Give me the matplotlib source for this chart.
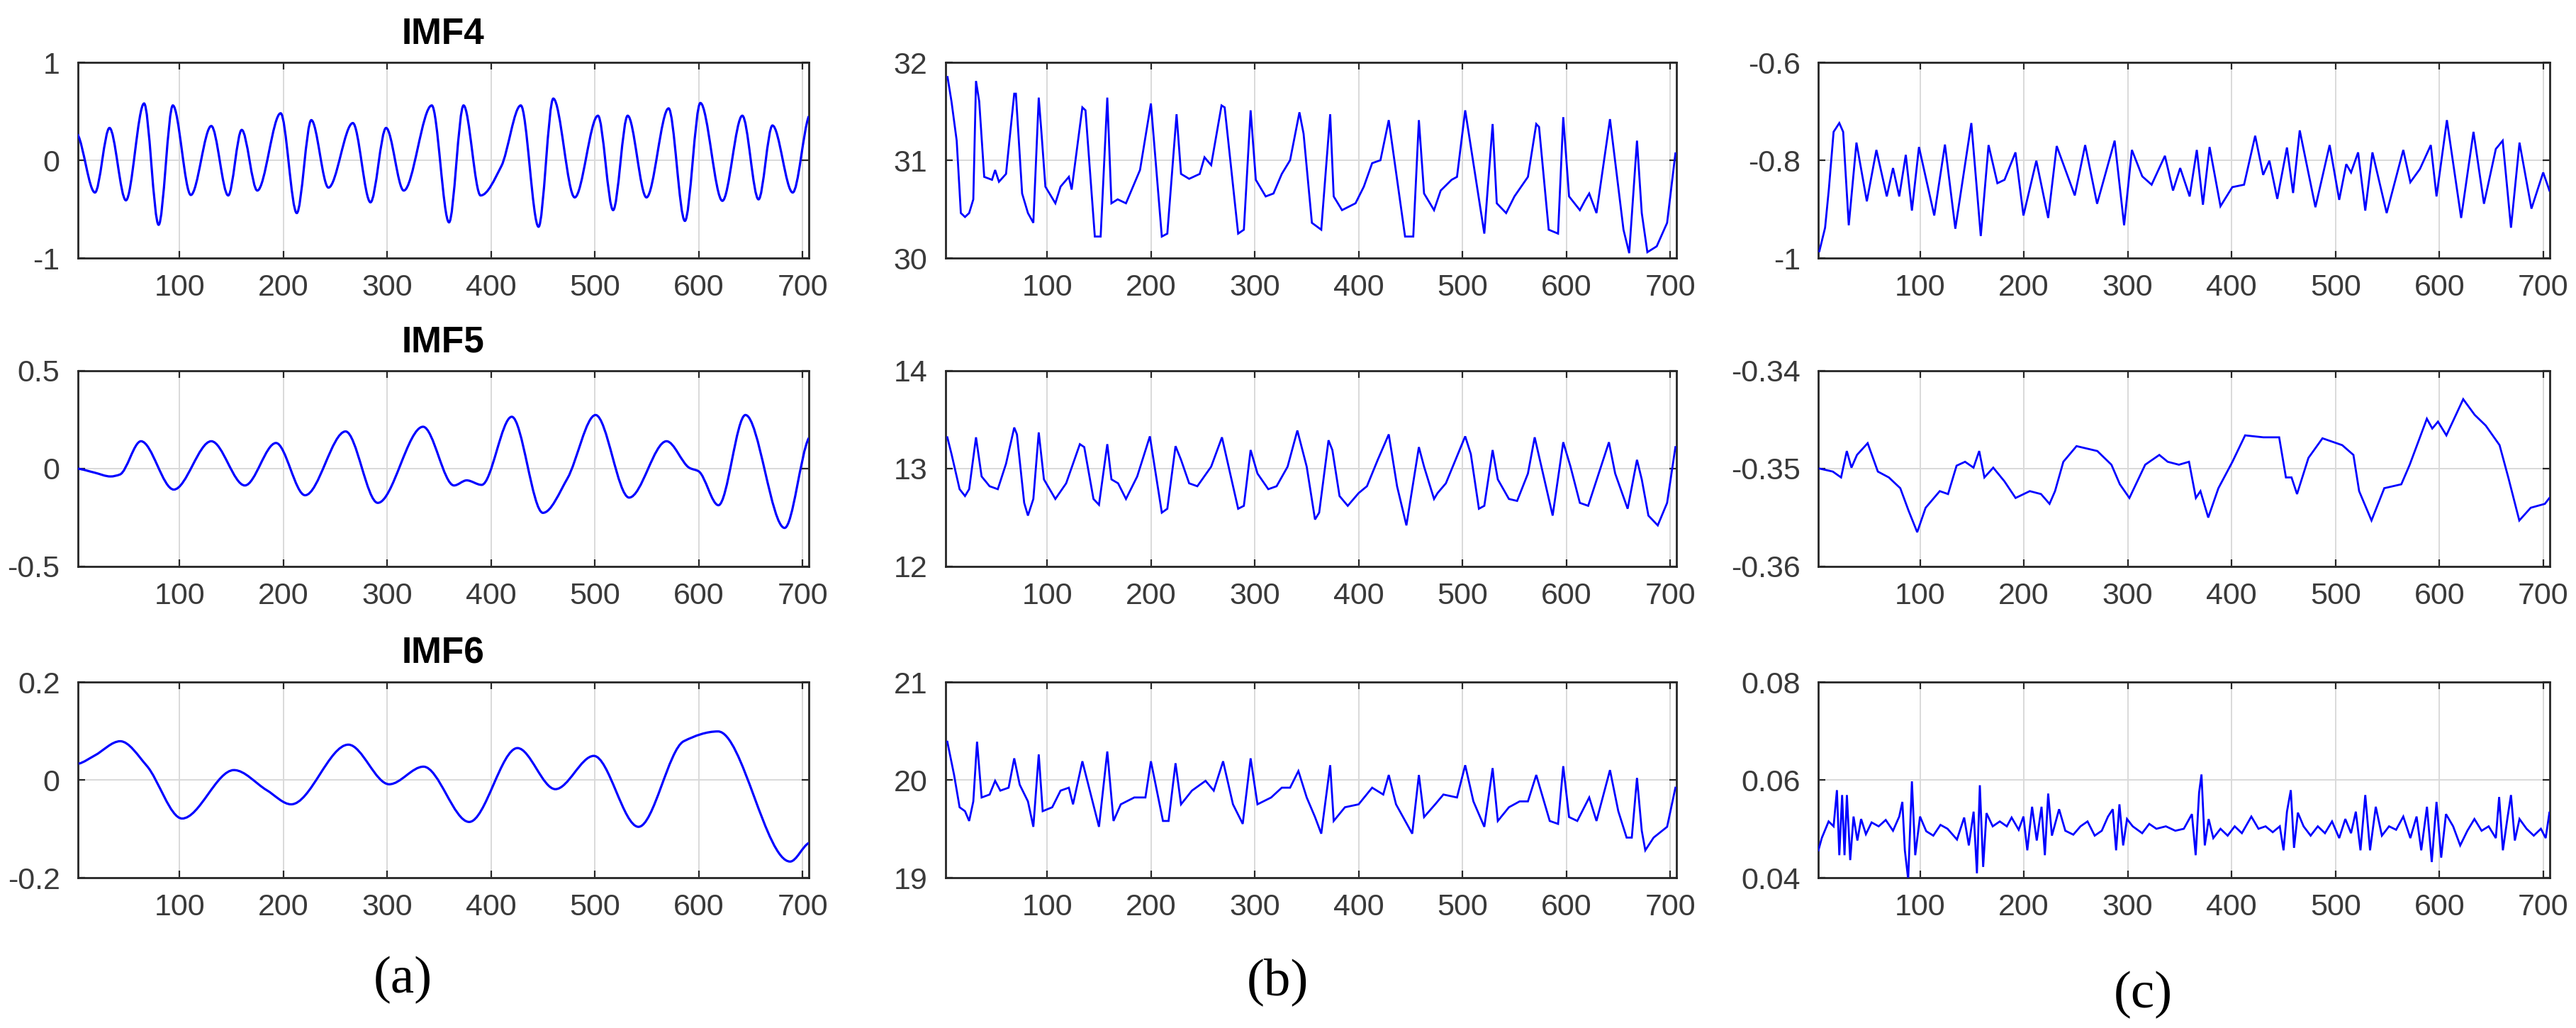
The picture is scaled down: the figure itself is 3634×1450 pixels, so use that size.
import numpy as np
import matplotlib
matplotlib.use("Agg")
import matplotlib.pyplot as plt
from matplotlib.path import Path
from matplotlib.patches import PathPatch

plt.rcParams['font.family'] = ['Liberation Sans', 'DejaVu Sans']
plt.rcParams['axes.unicode_minus'] = False

# ---------------- data ----------------
# column (a): IMF4, IMF5, IMF6  (extrema / turning points)
a1_x = [2, 18.7, 32.7, 48.5, 66, 80, 93.7, 111, 130.7, 147, 160, 175, 197.5, 213, 227, 243.5, 267, 284, 299, 316,
        343, 359.6, 373.6, 390, 410, 428.7, 445.8, 460, 480.6, 503, 517.6, 531.6, 549.7, 571, 586.7, 601.6, 622.8,
        642, 657.6, 671, 690.5, 706]
a1_y = [0.265, -0.33, 0.33, -0.41, 0.58, -0.66, 0.56, -0.355, 0.35, -0.36, 0.31, -0.31, 0.48, -0.54, 0.41, -0.28,
        0.38, -0.43, 0.33, -0.31, 0.56, -0.635, 0.56, -0.36, -0.06, 0.56, -0.68, 0.63, -0.38, 0.455, -0.51, 0.455,
        -0.38, 0.53, -0.62, 0.585, -0.415, 0.455, -0.40, 0.355, -0.33, 0.45]

a2_x = [2, 18, 33.7, 42.7, 63, 94.6, 130.7, 163, 193, 221, 260, 291, 334.6, 364.4, 376.6, 391, 420, 450, 473.6,
        500.7, 533, 569, 591, 600, 619, 645, 682.7, 706]
a2_y = [0.0, -0.02, -0.04, -0.03, 0.14, -0.107, 0.14, -0.086, 0.131, -0.136, 0.19, -0.175, 0.214, -0.086, -0.06,
        -0.083, 0.265, -0.226, -0.05, 0.274, -0.148, 0.14, 0.004, -0.014, -0.187, 0.274, -0.303, 0.157]

a3_x = [3, 18.6, 43, 68.5, 102.6, 152.5, 184, 207.6, 262.7, 302, 335, 379, 425.5, 462, 499, 542, 585.6, 618.6,
        688, 706]
a3_y = [0.033, 0.05, 0.079, 0.029, -0.079, 0.02, -0.021, -0.05, 0.072, -0.009, 0.027, -0.086, 0.065, -0.019,
        0.049, -0.096, 0.079, 0.099, -0.167, -0.129]

# column (b)
b1_x = [4.2, 8, 13, 17, 21, 25, 29, 31.6, 34.7, 39.5, 47, 50, 53.7, 60.5, 68.4, 70, 76, 81.6, 86.8, 92,
        94.7, 98.4, 108, 113, 121, 123.7, 134, 137, 146, 151.6, 158, 162, 168, 176, 189.5, 200, 210.5, 215.8,
        224.7, 229, 236.8, 247, 251.6, 258, 268, 271, 284, 289.5, 296, 301, 310.5, 318, 326, 334, 343, 347,
        355, 364, 372.6, 376, 384, 397, 405, 413, 421, 429, 444.7, 452.6, 458, 463, 472.6, 479, 489.5, 494.7,
        502.6, 521, 529, 533, 542, 550, 563, 571, 573.7, 583, 592, 597, 602.6, 613, 618, 622, 629, 642, 655,
        660.5, 668, 672.6, 678, 687, 697, 705]
b1_y = [31.85, 31.6, 31.2, 30.46, 30.42, 30.46, 30.6, 31.81, 31.6, 30.83, 30.8, 30.9, 30.78, 30.86, 31.68,
        31.68, 30.66, 30.46, 30.36, 31.64, 31.27, 30.73, 30.56, 30.73, 30.83, 30.7, 31.54, 31.51, 30.22, 30.22,
        31.64, 30.56, 30.6, 30.56, 30.9, 31.58, 30.22, 30.25, 31.47, 30.86, 30.81, 30.86, 31.03, 30.95, 31.56,
        31.54, 30.25, 30.29, 31.51, 30.8, 30.63, 30.66, 30.86, 31.0, 31.49, 31.27, 30.36, 30.29, 31.47, 30.63,
        30.49, 30.56, 30.73, 30.97, 31.0, 31.41, 30.22, 30.22, 31.41, 30.66, 30.49, 30.69, 30.8, 30.83, 31.51,
        30.25, 31.37, 30.56, 30.46, 30.63, 30.83, 31.37, 31.34, 30.29, 30.25, 31.44, 30.63, 30.49, 30.59, 30.66,
        30.46, 31.42, 30.29, 30.05, 31.2, 30.46, 30.06, 30.12, 30.36, 31.07]

b2_x = [4, 8, 15.8, 21, 25, 31.6, 37, 44.7, 52.6, 60.5, 68.4, 71, 78, 81.6, 86.8, 92, 97, 108, 118.4, 131.6,
        135.8, 144.7, 150, 158, 162, 168.4, 176, 186.8, 199, 210.5, 215.8, 223.7, 229, 236.8, 244.7, 258, 268.4,
        284, 289.5, 296, 302.6, 313, 321, 331.6, 341, 350, 358, 362, 371, 374.7, 381.6, 389.5, 400, 408, 418.4,
        429, 437, 446, 458, 463, 472.6, 476, 484, 502.6, 508, 515.8, 521, 529, 534, 544.7, 552.6, 563, 569.5,
        586.8, 597, 604, 613, 621, 641, 647, 659, 668, 672.6, 679, 688, 697, 705]
b2_y = [13.32, 13.15, 12.79, 12.72, 12.79, 13.32, 12.92, 12.82, 12.79, 13.05, 13.42, 13.35, 12.65, 12.52,
        12.69, 13.37, 12.89, 12.69, 12.85, 13.25, 13.22, 12.69, 12.63, 13.25, 12.89, 12.85, 12.69, 12.92, 13.33,
        12.55, 12.59, 13.23, 13.09, 12.85, 12.82, 13.02, 13.32, 12.59, 12.62, 13.19, 12.95, 12.79, 12.82, 13.02,
        13.39, 13.02, 12.48, 12.55, 13.29, 13.19, 12.72, 12.62, 12.75, 12.82, 13.09, 13.35, 12.82, 12.42, 13.22,
        13.02, 12.69, 12.75, 12.85, 13.33, 13.15, 12.59, 12.62, 13.19, 12.89, 12.69, 12.67, 12.95, 13.32, 12.52,
        13.27, 13.02, 12.65, 12.62, 13.27, 12.95, 12.59, 13.09, 12.89, 12.52, 12.42, 12.65, 13.22]

b3_x = [4, 10.5, 15.8, 21, 25, 29, 32.6, 37, 44.7, 50, 55, 63, 68.4, 73.7, 81.6, 86.8, 92, 95.8, 105, 113,
        121, 125, 134, 150, 158, 164, 171, 184, 194.7, 200, 211.6, 217, 223.7, 229, 239.5, 252.6, 260.5, 269.5,
        279, 288.4, 296, 302.6, 315.8, 326, 334, 342, 350, 358, 364, 372.6, 376, 386.8, 400, 413, 423.7, 429,
        436, 451.6, 458, 463, 473.7, 481.6, 494.7, 502.6, 510.5, 521, 529, 534, 544.7, 555, 563, 571, 584, 592,
        597, 602.6, 610.5, 622, 629, 642, 650, 658, 663, 668, 672.6, 676, 684, 697, 705]
b3_y = [20.39, 20.05, 19.72, 19.68, 19.58, 19.78, 20.39, 19.82, 19.85, 19.99, 19.89, 19.92, 20.22, 19.95,
        19.78, 19.52, 20.26, 19.68, 19.72, 19.89, 19.92, 19.75, 20.19, 19.52, 20.29, 19.58, 19.75, 19.82, 19.82,
        20.19, 19.58, 19.58, 20.17, 19.75, 19.89, 19.99, 19.89, 20.19, 19.75, 19.55, 20.22, 19.75, 19.82, 19.92,
        19.92, 20.09, 19.82, 19.62, 19.45, 20.15, 19.58, 19.72, 19.75, 19.92, 19.85, 20.05, 19.75, 19.45, 20.05,
        19.62, 19.75, 19.85, 19.82, 20.15, 19.78, 19.52, 20.12, 19.58, 19.72, 19.78, 19.78, 20.05, 19.58, 19.55,
        20.14, 19.62, 19.58, 19.82, 19.58, 20.10, 19.68, 19.41, 19.41, 20.02, 19.48, 19.28, 19.41, 19.52, 19.92]

# column (c)
c1_x = [3.1, 8.6, 12.2, 16.8, 22.3, 26, 31.4, 38.8, 48.8, 58, 68, 74, 80, 86.3, 92.2, 99, 113.7, 124, 134,
        149.4, 158.5, 166, 174.5, 181.4, 191.9, 199.6, 212, 223.4, 231.6, 249, 259, 270.5, 287.4, 296.5, 304,
        314, 323, 335.8, 343.6, 350.5, 359.6, 366.5, 372.4, 378.8, 389.3, 400.7, 412, 422.7, 430.4, 436.4, 444,
        453.3, 459.2, 465.6, 480.7, 494.4, 503.6, 510.4, 515, 521.8, 528.7, 535.6, 549.3, 565.3, 572.1, 581.3,
        591.8, 597.3, 607.3, 621, 632.9, 643, 654.4, 661, 669, 677.2, 688.7, 700, 706]
c1_y = [-0.986, -0.938, -0.86, -0.742, -0.724, -0.742, -0.933, -0.764, -0.884, -0.779, -0.874, -0.816, -0.874,
        -0.789, -0.903, -0.773, -0.913, -0.768, -0.94, -0.724, -0.955, -0.769, -0.847, -0.84, -0.784, -0.913,
        -0.801, -0.918, -0.771, -0.872, -0.769, -0.889, -0.76, -0.933, -0.779, -0.833, -0.85, -0.791, -0.862,
        -0.816, -0.874, -0.779, -0.891, -0.773, -0.894, -0.855, -0.85, -0.75, -0.83, -0.801, -0.879, -0.774,
        -0.867, -0.739, -0.896, -0.769, -0.881, -0.808, -0.825, -0.784, -0.903, -0.784, -0.908, -0.779, -0.845,
        -0.818, -0.769, -0.874, -0.718, -0.918, -0.742, -0.889, -0.777, -0.76, -0.938, -0.764, -0.899, -0.825,
        -0.862]

c2_x = [3.5, 16, 24, 29.5, 34, 39.3, 49.6, 59.4, 70, 81, 89, 97.3, 105.4, 119, 127, 135.2, 143.4, 151.5, 157,
        162, 170.5, 181.3, 192, 205.7, 216.5, 224.7, 230, 238, 250.7, 270.7, 284.3, 292.4, 301.6, 316.8, 330.4,
        338.5, 349.3, 359, 365.6, 370, 377.5, 387.3, 400.8, 413, 430.6, 445.8, 452.3, 457.7, 463, 474, 487.5,
        506.5, 517.3, 522.8, 534.7, 547, 563.4, 571.5, 588, 593.2, 598.7, 606.8, 623, 634, 644.7, 658, 666.4,
        677, 688, 701.6, 706]
c2_y = [-0.35, -0.3503, -0.3509, -0.3482, -0.3499, -0.3486, -0.3474, -0.3503, -0.3509, -0.352, -0.3543,
        -0.3565, -0.354, -0.3523, -0.3526, -0.3497, -0.3493, -0.3499, -0.3482, -0.3509, -0.3499, -0.3513, -0.353,
        -0.3523, -0.3526, -0.3536, -0.3523, -0.3493, -0.3477, -0.3482, -0.3496, -0.3516, -0.353, -0.3496,
        -0.3486, -0.3493, -0.3496, -0.3493, -0.353, -0.3523, -0.355, -0.352, -0.3493, -0.3466, -0.3468, -0.3468,
        -0.3509, -0.3509, -0.3526, -0.3489, -0.3469, -0.3476, -0.3486, -0.3523, -0.3553, -0.352, -0.3516,
        -0.3496, -0.3449, -0.3459, -0.3452, -0.3466, -0.3429, -0.3445, -0.3456, -0.3476, -0.3509, -0.3553,
        -0.354, -0.3536, -0.353]

c3_x = [2.2, 5.4, 12, 16.8, 20, 22.3, 25, 27.3, 29.6, 32.8, 36, 39.7, 43.3, 47.9, 53.4, 60.2, 67, 74, 80, 83,
        85.4, 88.6, 92.2, 95.4, 100, 106, 112.8, 119.7, 126.5, 135.6, 142.5, 147, 151.6, 154.8, 157.6, 160.8, 164,
        170, 176.8, 183.6, 188.2, 195, 199.6, 203.3, 207.9, 212.4, 217, 220.2, 223.4, 227, 233.9, 239.9, 247.6,
        254.5, 261.3, 268.2, 275, 281, 285.6, 288.8, 292, 295.6, 299.3, 304.8, 313.9, 320.7, 327.6, 336.7, 345.8,
        354, 361.8, 365.4, 368.7, 371, 374.2, 377.9, 382.4, 389.3, 396.2, 403, 409.9, 419, 425.9, 432.7, 439.6,
        446.4, 450, 453.3, 457, 460.1, 463.8, 469.3, 476.1, 483, 489.9, 496.7, 503.6, 509.5, 515, 519.6, 524.1,
        528.7, 533.3, 538.8, 544.7, 551.6, 558.4, 565.3, 572.1, 578.1, 582.6, 588.1, 592.7, 597.3, 601.8, 606.4,
        613.3, 620.1, 627, 633.8, 640.7, 647.5, 654.4, 657.6, 661.2, 665.8, 669, 672.7, 677.2, 684, 690.9, 697.8,
        702.4, 706]
c3_y = [0.0456, 0.0481, 0.0515, 0.0505, 0.0579, 0.0446, 0.0569, 0.0446, 0.0569, 0.0436, 0.0525, 0.0476, 0.052,
        0.0489, 0.0513, 0.0505, 0.0518, 0.0496, 0.0525, 0.0555, 0.0456, 0.0397, 0.0597, 0.0446, 0.0525, 0.0495,
        0.0486, 0.0508, 0.05, 0.0478, 0.0523, 0.0466, 0.0535, 0.0409, 0.0589, 0.0422, 0.0532, 0.0505, 0.0515,
        0.0505, 0.0523, 0.0498, 0.0525, 0.0456, 0.0545, 0.0476, 0.0545, 0.0446, 0.0572, 0.0486, 0.054, 0.0496,
        0.0488, 0.0505, 0.0515, 0.0486, 0.0496, 0.0525, 0.054, 0.0456, 0.055, 0.0466, 0.052, 0.0505, 0.0491,
        0.051, 0.05, 0.0505, 0.0496, 0.05, 0.053, 0.0446, 0.0574, 0.0611, 0.0466, 0.052, 0.0481, 0.05, 0.0486,
        0.0505, 0.0491, 0.0525, 0.05, 0.0505, 0.0493, 0.0505, 0.0456, 0.0535, 0.0579, 0.0461, 0.0533, 0.0505,
        0.0486, 0.0505, 0.0491, 0.0515, 0.0481, 0.052, 0.0491, 0.0535, 0.0456, 0.0569, 0.0456, 0.0545, 0.0486,
        0.0505, 0.0498, 0.0525, 0.0481, 0.0525, 0.0456, 0.0545, 0.0432, 0.0555, 0.0441, 0.053, 0.0505, 0.0466,
        0.0496, 0.052, 0.0496, 0.0505, 0.0481, 0.0565, 0.0456, 0.0525, 0.0569, 0.0476, 0.052, 0.05, 0.0486, 0.05,
        0.0481, 0.0533]

x_ticks = [100, 200, 300, 400, 500, 600, 700]
x_tick_labels = ["100", "200", "300", "400", "500", "600", "700"]

y_ticks = {
    "a1": ([-1, 0, 1], ["-1", "0", "1"]),
    "a2": ([-0.5, 0, 0.5], ["-0.5", "0", "0.5"]),
    "a3": ([-0.2, 0, 0.2], ["-0.2", "0", "0.2"]),
    "b1": ([30, 31, 32], ["30", "31", "32"]),
    "b2": ([12, 13, 14], ["12", "13", "14"]),
    "b3": ([19, 20, 21], ["19", "20", "21"]),
    "c1": ([-1, -0.8, -0.6], ["-1", "-0.8", "-0.6"]),
    "c2": ([-0.36, -0.35, -0.34], ["-0.36", "-0.35", "-0.34"]),
    "c3": ([0.04, 0.06, 0.08], ["0.04", "0.06", "0.08"]),
}
titles = {"a1": "IMF4", "a2": "IMF5", "a3": "IMF6"}
panel_labels = ["(a)", "(b)", "(c)"]

series = {
    "a1": (a1_x, a1_y), "a2": (a2_x, a2_y), "a3": (a3_x, a3_y),
    "b1": (b1_x, b1_y), "b2": (b2_x, b2_y), "b3": (b3_x, b3_y),
    "c1": (c1_x, c1_y), "c2": (c2_x, c2_y), "c3": (c3_x, c3_y),
}

# ---------------- drawing helpers ----------------
BLUE = "#0000ff"


def smooth_path(x, y):
    """Monotone cubic (Hermite) rendering of the read points as Bezier segments."""
    x = np.asarray(x, float)
    y = np.asarray(y, float)
    n = len(x)
    d = np.diff(y) / np.diff(x)
    m = np.zeros(n)
    for i in range(1, n - 1):
        if d[i - 1] * d[i] > 0:
            m[i] = 2.0 / (1.0 / d[i - 1] + 1.0 / d[i])
    m[0] = d[0] * 0.5
    m[-1] = d[-1] * 0.5
    verts = [(x[0], y[0])]
    codes = [Path.MOVETO]
    for i in range(n - 1):
        h = x[i + 1] - x[i]
        verts += [(x[i] + h / 3, y[i] + m[i] * h / 3),
                  (x[i + 1] - h / 3, y[i + 1] - m[i + 1] * h / 3),
                  (x[i + 1], y[i + 1])]
        codes += [Path.CURVE4] * 3
    return Path(verts, codes)


W, H = 3634, 1450
fig = plt.figure(figsize=(W / 100, H / 100), dpi=100)

col_left = {"a": 109.5, "b": 1333.5, "c": 2565}
col_width = 1031.5
row_top = {"1": 88, "2": 523, "3": 962}
row_height = 276

for key, (xs, ys) in series.items():
    c, r = key[0], key[1]
    left = col_left[c] / W
    bottom = 1 - (row_top[r] + row_height) / H
    ax = fig.add_axes([left, bottom, col_width / W, row_height / H])
    n = min(len(xs), len(ys))
    xs, ys = xs[:n], ys[:n]
    if c == "a":
        ax.add_patch(PathPatch(smooth_path(xs, ys), facecolor="none", edgecolor=BLUE, lw=2.3,
                               transform=ax.transData, zorder=3))
    else:
        ax.plot(xs, ys, color=BLUE, lw=2.0, zorder=3, solid_joinstyle="miter")
    ax.set_xlim(2, 706)
    yt, ytl = y_ticks[key]
    ax.set_ylim(yt[0], yt[-1])
    ax.set_xticks(x_ticks)
    ax.set_xticklabels(x_tick_labels)
    ax.set_yticks(yt)
    ax.set_yticklabels(ytl)
    ax.grid(True, color="#d9d9d9", lw=1.4, zorder=0)
    ax.set_axisbelow(True)
    for s in ax.spines.values():
        s.set_linewidth(2.0)
        s.set_color("#262626")
    ax.tick_params(axis="both", direction="in", length=7, width=1.6, color="#262626",
                   top=True, right=True, labelsize=31, labelcolor="#3a3a3a")
    ax.tick_params(axis="x", pad=16)
    ax.tick_params(axis="y", pad=18)
    if key in titles:
        ax.set_title(titles[key], fontsize=37, fontweight="bold", pad=19)

label_pos = [(568, 1382), (1802, 1385), (3023, 1403)]
for lab, (px, py) in zip(panel_labels, label_pos):
    fig.text(px / W, 1 - py / H, lab, ha="center", va="center", fontsize=54,
             family=["Liberation Serif", "DejaVu Serif"])

fig.savefig("out.png", dpi=100)
